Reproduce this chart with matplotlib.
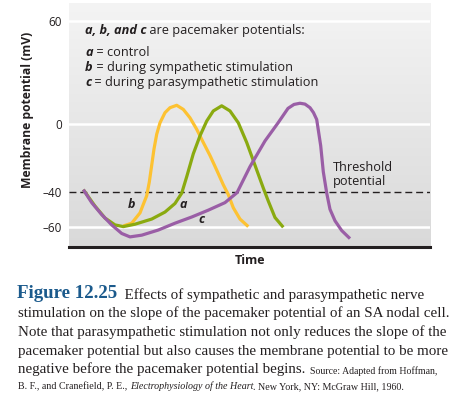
import matplotlib.pyplot as plt
import numpy as np
from matplotlib.colors import LinearSegmentedColormap

# pacemaker potentials (time in arbitrary units, membrane potential in mV)
# a = control
time_a = [83.3, 95, 105, 115, 123.3, 135, 151.7, 165, 175, 181.7, 186.7, 193.3, 200, 206.7,
          213.3, 221.7, 230, 238.3, 246.7, 255, 263.3, 268.3, 275, 283.3]
volt_a = [-38.4, -48, -55, -59, -60, -58.6, -55.6, -51.5, -46.5, -40.5, -30.9, -17.5, -7, 1.6,
          7.5, 10.5, 7.5, 0.6, -10.9, -24.2, -37.5, -45.1, -54.7, -60.4]

# b = sympathetic
time_b = [123.3, 131.7, 140, 143.3, 146.7, 149.3, 151.7, 154, 156.7, 160, 165, 170, 176.7,
          183.3, 190, 196.7, 203.3, 210, 216.7, 223.3, 228.3, 233.3, 240, 248.3]
volt_b = [-59.6, -58, -52, -47, -42, -34, -24.2, -14.7, -6.1, 0.6, 6.5, 9.4, 10.8,
          8.4, 3.5, -3.2, -10.9, -18.5, -27, -35.6, -41.3, -49, -55.6, -60]

# c = parasympathetic
time_c = [83.3, 91.7, 101.7, 111.7, 121.7, 130, 141.7, 158.3, 175, 191.7, 208.3, 225, 237,
          250, 265, 278, 288, 294, 300, 305, 310, 313.5, 316.7, 320.7, 323.3, 326.7, 330,
          335, 341.7, 350]
volt_c = [-38.4, -46, -53, -59, -64, -66, -65, -62, -58, -54.4, -50.4, -46, -40.2,
          -25, -10, 0.5, 9, 11.3, 12, 11.5, 9.4, 6.5, 2.5, -12.8, -28, -40.4, -49.9,
          -56.6, -62.3, -67]

threshold = -40
ytick_vals = [60, 0, -40, -60]
ytick_labels = ['60', '0', '\u201340', '\u201360']
grid_vals = [60, 0, -60]

yellow = '#fdc232'
green = '#8aaa10'
purple = '#9a5ea6'
ink = '#231f20'

sans = 'Open Sans'
serif = 'Liberation Serif'

fig = plt.figure(figsize=(4.68, 4.05), dpi=100)
W, H = 468, 405
ax = fig.add_axes([69 / W, 1 - 247 / H, 361 / W, 244 / H])
xlim = (69, 430)
ylim = (-71.9, 70.5)

# grey gradient background
bg = LinearSegmentedColormap.from_list('bg', ['#f4f4f4', '#d9d9d9'])
ax.imshow(np.linspace(0, 1, 256).reshape(-1, 1), cmap=bg, aspect='auto',
          extent=[xlim[0], xlim[1], ylim[0], ylim[1]], zorder=0)
for g in grid_vals:
    ax.axhline(g, color='white', lw=1.8, zorder=1)
ax.axhline(threshold, color=ink, lw=1.0, dashes=(5, 2.8), zorder=2)

line_kw = dict(lw=2.3, solid_capstyle='butt', solid_joinstyle='round')
ax.plot(time_b, volt_b, color=yellow, zorder=3, **line_kw)
ax.plot(time_a, volt_a, color=green, zorder=4, **line_kw)
ax.plot(time_c, volt_c, color=purple, zorder=5, **line_kw)

ax.set_xlim(xlim)
ax.set_ylim(ylim)
ax.set_xticks([])
ax.set_yticks(ytick_vals)
ax.set_yticklabels(ytick_labels, fontsize=8.5, family=sans, color=ink)
ax.tick_params(axis='y', length=0, pad=5)
for s in ['top', 'left', 'right']:
    ax.spines[s].set_visible(False)
ax.spines['bottom'].set_color(ink)
ax.spines['bottom'].set_linewidth(2.2)

# curve labels
lab = dict(fontsize=9, family=sans, weight='bold', style='italic', color=ink,
           ha='center', va='center')
ax.text(131.7, -47, 'b', **lab)
ax.text(182.7, -47, 'a', **lab)
ax.text(201.7, -56, 'c', **lab)
ax.text(333, -29.5, 'Threshold\npotential', fontsize=9.2, family=sans, color=ink,
        ha='left', va='center', linespacing=1.1)


def runs(x, y, parts, **kw):
    # draw consecutive text pieces with different styles on one baseline
    t = ax.annotate(parts[0][0], xy=(x / W, 1 - y / H), xycoords='figure fraction',
                    va='baseline', annotation_clip=False, **kw, **parts[0][1])
    for s, st in parts[1:]:
        t = ax.annotate(s, xy=(1, 0), xycoords=t, va='bottom',
                        annotation_clip=False, **kw, **st)
    return t


bi = dict(weight='bold', style='italic')
rg = dict()
ck = dict(family=sans, fontsize=9.2, color=ink)
runs(85, 34, [('a, b, and c', bi), (' are pacemaker potentials:', rg)], **ck)
runs(85, 56, [('a', bi), (' = control', rg)], **ck)
runs(85, 71, [('b', bi), (' = during sympathetic stimulation', rg)], **ck)
runs(85, 86, [('c', bi), (' = during parasympathetic stimulation', rg)], **ck)

fig.text(27 / W, 1 - 110 / H, 'Membrane potential (mV)', rotation=90, ha='center',
         va='center', fontsize=8.7, family=sans, weight='bold', color=ink)
fig.text(250 / W, 1 - 260 / H, 'Time', ha='center', va='center', fontsize=9,
         family=sans, weight='bold', color=ink)

# caption
cap = dict(family=serif, color=ink)
runs(17, 298, [('Figure 12.25', dict(fontsize=13.6, weight='bold', color='#1b5a8c')),
               ('  Effects of sympathetic and parasympathetic nerve', dict(fontsize=10.8, color=ink))],
     family=serif)
runs(18, 317, [('stimulation on the slope of the pacemaker potential of an SA nodal cell.', rg)],
     fontsize=10.8, **cap)
runs(18, 336, [('Note that parasympathetic stimulation not only reduces the slope of the', rg)],
     fontsize=10.8, **cap)
runs(18, 355, [('pacemaker potential but also causes the membrane potential to be more', rg)],
     fontsize=10.8, **cap)
runs(18, 373, [('negative before the pacemaker potential begins.', dict(fontsize=10.8)),
               ('  Source: Adapted from Hoffman,', dict(fontsize=7))], **cap)
runs(18, 389, [('B. F., and Cranefield, P. E., ', rg),
               ('Electrophysiology of the Heart', dict(style='italic')),
               ('. New York, NY: McGraw Hill, 1960.', rg)], fontsize=7.2, **cap)

fig.savefig('out.png', dpi=100)
